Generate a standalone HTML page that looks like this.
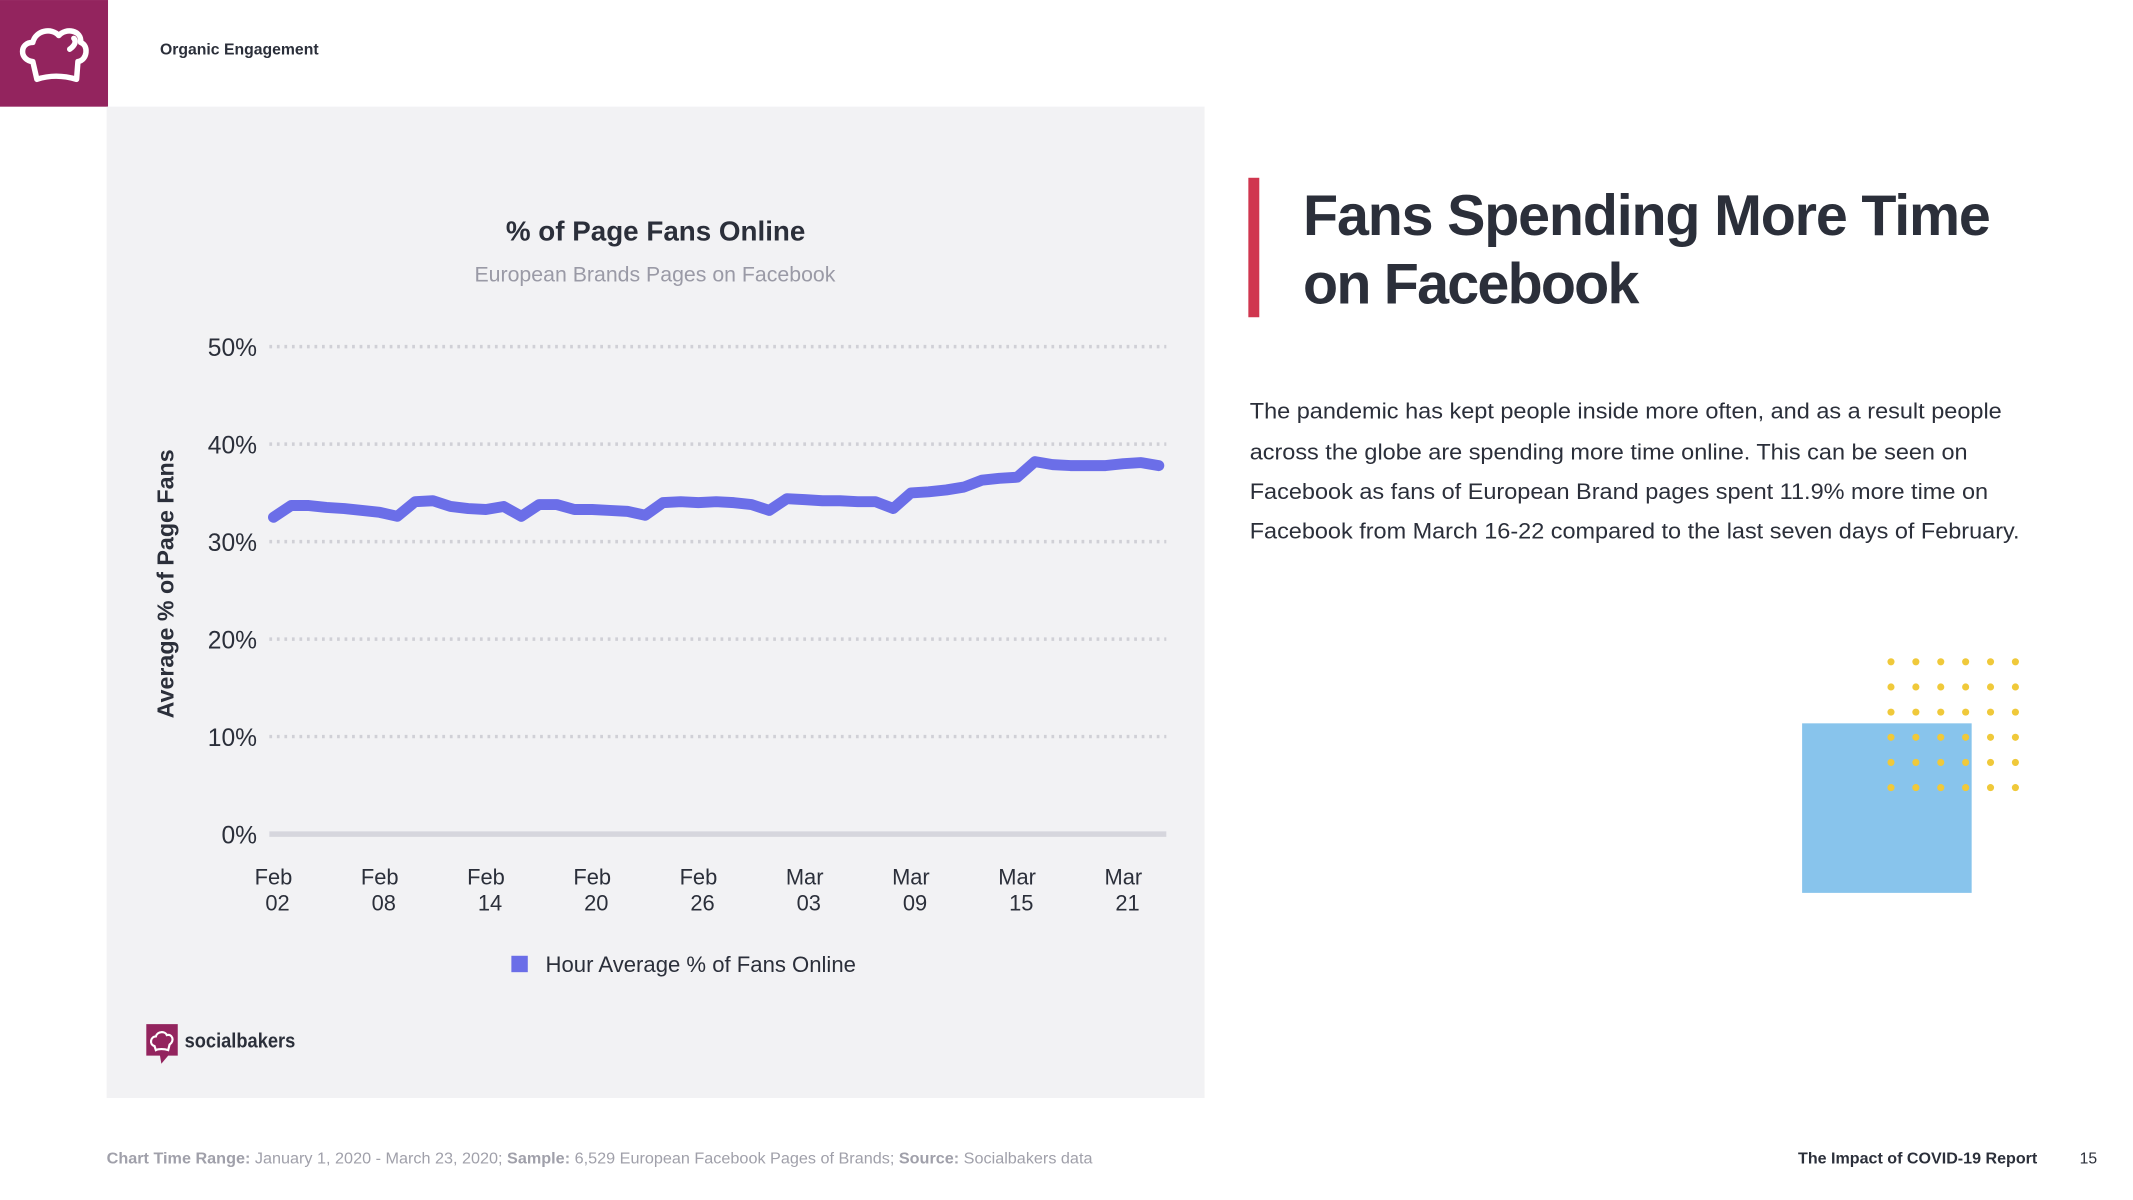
<!DOCTYPE html>
<html><head><meta charset="utf-8"><style>
html,body{margin:0;padding:0;background:#fff;width:2133px;height:1200px;overflow:hidden}
svg text{font-family:"Liberation Sans",sans-serif}
</style></head><body>
<svg width="2133" height="1200" viewBox="0 0 1560 877.6" xmlns="http://www.w3.org/2000/svg">
<rect x="0" y="0" width="79" height="78" fill="#93245e"/>
<g fill="none" stroke="#fff" stroke-width="4" stroke-linejoin="round" stroke-linecap="round">
<path d="M24 45 C14 44 14 31 24 31 C26 22 38 20 43 26 C48 20 60 22 59 31 C65 33 64 44 57 45 L56 58 C46 55 36 55 27 58 Z"/>
<path d="M51 36 C55 33 56 30 54 28"/>
</g>
<text x="117" y="40" font-size="11.5" font-weight="bold" fill="#2b2f3a" textLength="116" lengthAdjust="spacingAndGlyphs">Organic Engagement</text>
<rect x="78" y="78" width="803" height="725" fill="#f2f2f4"/>
<text x="370" y="176" font-size="20" font-weight="bold" fill="#2b2f3a" textLength="219" lengthAdjust="spacingAndGlyphs">% of Page Fans Online</text>
<text x="347" y="206" font-size="15.5" fill="#9a9aa6" textLength="264" lengthAdjust="spacingAndGlyphs">European Brands Pages on Facebook</text>
<text transform="translate(127,427) rotate(-90)" font-size="17" font-weight="bold" fill="#2b2f3a" text-anchor="middle">Average % of Page Fans</text>
<g id="chart"></g>
<rect x="374" y="699" width="12" height="12" fill="#6b6ee8"/>
<text x="399" y="711" font-size="16.5" fill="#2b2f3a" textLength="227" lengthAdjust="spacingAndGlyphs">Hour Average % of Fans Online</text>
<g>
<path d="M107 749 H130 V772 H123 L118 778 L117 772 H107 Z" fill="#93245e"/>
<path d="M113 765 C109 764 110 758 114 758 C115 754 121 754 122 757 C126 756 128 761 124 764 L123 768 C120 767 116 767 114 768 Z" fill="none" stroke="#fff" stroke-width="1.6"/>
<text x="135" y="766" font-size="15" font-weight="bold" fill="#2b2f3a" textLength="81" lengthAdjust="spacingAndGlyphs">socialbakers</text>
</g>
<rect x="913" y="130" width="8" height="102" fill="#d0364f"/>
<text font-size="42" font-weight="bold" fill="#2b2f3a" lengthAdjust="spacingAndGlyphs"><tspan x="953" y="172" textLength="503">Fans Spending More Time</tspan><tspan x="953" y="222" textLength="246">on Facebook</tspan></text>
<g font-size="16.3" fill="#2b2f3a">
<text x="914" y="306" textLength="550" lengthAdjust="spacingAndGlyphs">The pandemic has kept people inside more often, and as a result people</text>
<text x="914" y="336" textLength="525" lengthAdjust="spacingAndGlyphs">across the globe are spending more time online. This can be seen on</text>
<text x="914" y="365" textLength="540" lengthAdjust="spacingAndGlyphs">Facebook as fans of European Brand pages spent 11.9% more time on</text>
<text x="914" y="394" textLength="563" lengthAdjust="spacingAndGlyphs">Facebook from March 16-22 compared to the last seven days of February.</text>
</g>
<rect x="1318" y="529" width="124" height="124" fill="#88c4ec"/>
<g id="dots" fill="#f0c93a"></g>
<text x="78" y="851" font-size="11.5" fill="#a0a0aa" textLength="721" lengthAdjust="spacingAndGlyphs"><tspan font-weight="bold">Chart Time Range:</tspan> January 1, 2020 - March 23, 2020; <tspan font-weight="bold">Sample:</tspan> 6,529 European Facebook Pages of Brands; <tspan font-weight="bold">Source:</tspan> Socialbakers data</text>
<text x="1315" y="851" font-size="11.5" font-weight="bold" fill="#2b2f3a" textLength="175" lengthAdjust="spacingAndGlyphs">The Impact of COVID-19 Report</text>
<text x="1521" y="851" font-size="11.5" fill="#2b2f3a">15</text>
</svg>
<script>
const yTicks=[0,10,20,30,40,50];
const xLabelsTop=["Feb","Feb","Feb","Feb","Feb","Mar","Mar","Mar","Mar"];
const xLabelsBottom=["02","08","14","20","26","03","09","15","21"];
const xLabelDays=[0,6,12,18,24,30,36,42,48];
const fansOnline=[32.5,33.7,33.7,33.5,33.4,33.2,33.0,32.6,34.1,34.2,33.6,33.4,33.3,33.6,32.6,33.8,33.8,33.3,33.3,33.2,33.1,32.7,34.0,34.1,34.0,34.1,34.0,33.8,33.2,34.4,34.3,34.2,34.2,34.1,34.1,33.4,35.0,35.1,35.3,35.6,36.3,36.5,36.6,38.2,37.9,37.8,37.8,37.8,38.0,38.1,37.8];
const NS="http://www.w3.org/2000/svg";
const g=document.getElementById('chart');
const x0=200,xPerDay=12.95,left=197,right=853;
function xs(d){return x0+d*xPerDay;}
function ys(v){return 610-v*7.13;}
function mk(t,a){const e=document.createElementNS(NS,t);for(const k in a)e.setAttribute(k,a[k]);return e;}
yTicks.forEach(v=>{
  const ln=mk('line',{x1:left,x2:right,y1:ys(v),y2:ys(v),stroke:v===0?'#d6d6dd':'#d0d0d6','stroke-width':v===0?4:2.5,'stroke-dasharray':v===0?'none':'2 3.5'});
  
  
  g.appendChild(ln);
  const t=mk('text',{x:188,y:ys(v)+7,'font-size':18,fill:'#2b2f3a','text-anchor':'end'});
  t.textContent=v+'%';
  
  
  g.appendChild(t);
});
xLabelDays.forEach((d,i)=>{
  const t=mk('text',{'font-size':16,fill:'#2b2f3a','text-anchor':'middle'});
  t.innerHTML='<tspan x="'+(xs(d))+'" y="647">'+xLabelsTop[i]+'</tspan><tspan x="'+(xs(d)+3)+'" y="666">'+xLabelsBottom[i]+'</tspan>';
  
  
  g.appendChild(t);
});
const pts=fansOnline.map((v,i)=>xs(i).toFixed(1)+','+ys(v).toFixed(1)).join(' ');
const pl=mk('polyline',{points:pts,fill:'none',stroke:'#6b6ee8','stroke-width':8,'stroke-linejoin':'round','stroke-linecap':'round'});


g.appendChild(pl);
const dots=document.getElementById('dots');
for(let r=0;r<6;r++)for(let c=0;c<6;c++){
  dots.appendChild(mk('circle',{cx:1383+c*18.2,cy:484+r*18.4,r:2.6}));
}
</script>
</body></html>
